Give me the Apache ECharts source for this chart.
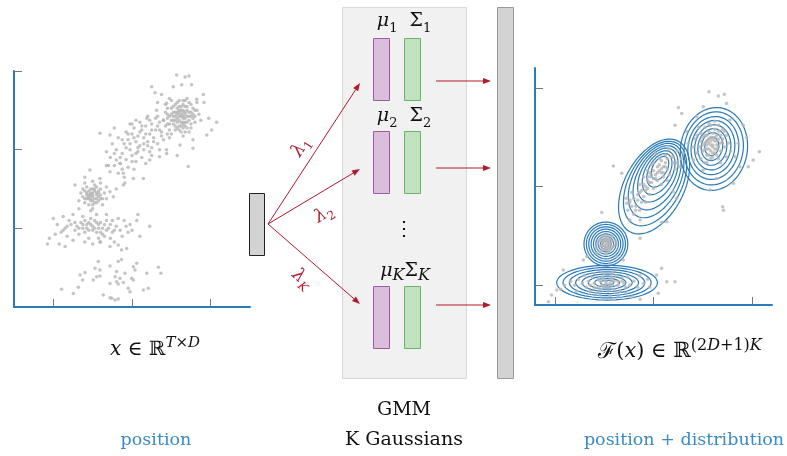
<!DOCTYPE html>
<html>
<head>
<meta charset="utf-8">
<script src="https://cdn.jsdelivr.net/npm/echarts@6/dist/echarts.min.js"></script>
<style>
html, body { margin: 0; padding: 0; background: #fff; }
#main { width: 787px; height: 456px; }
</style>
</head>
<body>
<div id="main"></div>
<script>
// input positions (left panel), units 0..120
var inputPoints = [
  // dense upper cluster
  [84,97],[86,99],[82,95],[88,100],[80,98],[85,94],[87,96],[83,101],[89,97],[81,93],
  [86,103],[90,99],[78,96],[84,92],[88,94],[83,98],[85,100],[87,92],[80,101],[91,101],
  [82,90],[86,96],[89,104],[79,93],[84,105],[92,97],[77,99],[88,91],[85,89],[81,97],
  [90,93],[83,94],[87,102],[86,91],[93,100],[79,90],[82,103],[89,95],[84,99],[91,96],
  [76,95],[88,106],[85,97],[80,88],[87,99],[94,98],[82,99],[86,94],[90,103],[83,91],
  [78,101],[92,94],[84,102],[89,89],[81,95],[87,105],[86,87],[95,95],[80,105],[93,104],
  [83,96],[85,98],[87,98],[84,95],[86,97],[82,97],[88,97],[85,102],[83,99],[86,100],
  [89,99],[81,99],[87,94],[84,90],[90,97],[80,95],[88,102],[82,92],[86,105],[91,98],
  [79,97],[85,92],[87,89],[83,104],[92,100],[78,93],[90,91],[84,100],[86,93],[81,102],
  [82.7,118],[87,117],[89,117.5],[70,112],[71.7,109],[81,112],[85.3,113],[90.3,113],[96.3,108],[96.6,104],
  [92.9,105.6],[103,94],[99,96],[100.5,90],[98,87.5],[91,80.7],[88.6,71.4],[83,77],[77.6,80],[74,76.4],
  [69,74.7],[75,108],[79,106],[73,104],[77,103],
  // diagonal band
  [60,88],[63,87],[65,90],[58,85],[67,92],[70,93],[62,84],[66,86],[72,90],[69,88],
  [74,94],[56,83],[59,80],[64,82],[68,84],[71,86],[75,89],[61,91],[53,86],[57,89],
  [55,78],[52,80],[49,76],[54,73],[51,72],[57,75],[60,77],[63,79],[66,80],[58,71],
  [62,74],[65,76],[69,79],[73,83],[76,85],[78,88],[72,96],[68,97],[64,94],[60,93],
  [50,83],[47,79],[55,70],[48,72],[53,68],[56,66],[61,70],[67,73],[70,77],[77,92],
  [79,86],[74,80],[43.7,88.3],[48.8,87.5],[51,91],[59,93],[62,95],[67.5,96],[72.5,100],[77.6,103.6],
  [60.7,65.4],[65.8,65.4],[77.6,78],[84.4,82.4],[91,85],[47,72],[52,74.7],[48.8,68.8],[55.6,68],[54,73],
  [56.4,63],[55.6,62],
  [61,86],[64,89],[67,88],[70,90],[73,92],[66,83],[63,81],[59,83],[62,78],[57,81],
  [54,76],[68,82],[71,84],[75,87],[65,92],[69,95],[58,88],[55,85],[51,78],[73,97],
  [76,95],[78,98],[74,90],[70,81],[60,74],
  // middle cluster
  [40,56],[42,58],[38,55],[41,53],[44,57],[37,58],[39,60],[43,54],[36,53],[42,61],
  [40,52],[45,55],[38,57],[41,59],[35,56],[43,56],[39,54],[37,61],[44,60],[40,58],
  [36,59],[42,55],[46,58],[38,52],[41,62],[34,58],[39,57],[43,59],[37,55],[40,50],
  [45,52],[33,54],[47,55],[40,64],[36,63],[44,63],[38.6,69.7],[31,62],[36,66],[43.7,65.4],
  [47,61],[50.5,56],[48.8,58.6],[52,60],
  [40,57],[41,55],[39,58],[42,57],[38,56],[40,54],[43,58],[37,57],[41,60],[39,55],
  [42,53],[44,55],[38,59],[40,60],[36,55],[35,60],
  // wide cluster
  [40,41],[37,42],[43,40],[35,40],[46,42],[32,41],[38,39],[44,43],[41,44],[29,42],
  [34,43],[48,40],[50,38],[36,38],[42,38],[31,39],[26,40],[28,44],[39,45],[45,37],
  [52,41],[54,39],[47,44],[33,37],[24,38],[22,42],[55,36],[57,41],[27,36],[38,35],
  [43,35],[49,35],[30,34],[21,37],[18,35],[17,32],[20,45],[25,46],[35,46],[42,47],
  [47,47],[53,45],[56,44],[59,42],[36,33],[40,32],[44,33],[51,33],[58,38],[23,32],
  [30,47],[39,49],[33,50],[63,47],[62.4,44],[69,41],[64,36],[60,39],[53,31.5],[54.7,29],
  [48.8,30.7],[57.3,29.8],[43.7,33],[26,30.7],
  [39,42],[41,40],[37,40],[43,42],[45,40],[35,42],[40,39],[42,43],[38,43],[33,40],
  [47,39],[44,38],[36,44],[31,43],[49,42],[50,44],[27,41],[25,39],[46,36],[51,39],
  // sparse bottom group
  [42.9,23.1],[53,23.1],[54.7,24.2],[48.8,20.8],[52.2,18],[33.6,16.3],[36.1,17.5],[41.2,19.7],[42,15.4],[40.3,13.7],
  [43.7,15.8],[51.4,15.4],[53.9,14.6],[56.4,17.1],[60.7,20.5],[61.5,18.8],[59.8,14.6],[52.2,12.9],[48.8,12],[53,11.7],
  [55.6,12.4],[58.1,9.5],[60.7,13.7],[67.5,17.1],[73.4,20.2],[74.7,17.1],[68.3,9.5],[65.8,8.6],[59,7.8],[32.7,10],
  [24.2,9],[30.2,6.9],[45.4,6.1],[49.7,4.4],[51.4,3.6],[53,4.1],[48.8,4.7],[34.9,13.7],[43.7,18.8],[62.4,22.2]
];

// same positions after fitting (right panel), units 0..120
var fittedPoints = [
  [89,81],[91,83],[87,79],[93,80],[88,84],[90,77],[86,82],[92,86],[94,82],[85,78],
  [89,85],[91,79],[87,76],[95,84],[88,88],[90,81],[84,83],[92,76],[86,86],[93,88],
  [96,80],[83,80],[89,74],[91,89],[87,83],[94,78],[85,85],[90,84],[88,79],[92,81],
  [97,86],[82,77],[86,90],[95,89],[89,91],[84,74],[93,74],[98,82],[81,84],[87,72],
  [90,80],[88,82],[91,85],[89,78],[92,83],[87,81],[93,84],[90,87],[86,79],[94,86],
  [88,76],[91,77],[89,83],[85,81],[92,79],[87,86],[95,82],[90,75],[84,87],[96,88],
  [88,92],[93,91],[99,78],[83,90],[80,80],[97,75],[86,72],[91,93],[94,72],[82,86],
  [88.1,108],[92.8,105.8],[95.9,106.7],[97,102],[72.6,100],[74.3,97],[70.9,91],[105.5,91],[107.2,85],[113.6,77.6],
  [110.5,73.4],[108,70],[100.4,61.6],[95,49.8],[95.4,48],[85.2,100.4],[81.9,95.4],[76.8,87.8],[77.6,81.9],[80.2,73.4],
  [85.2,68.4],[88.6,58.2],[92,64.1],[103.8,70],[101.3,75.1],[102.9,81.9],[98.7,93.7],
  [63,68],[61,66],[65,70],[60,64],[66,72],[58,62],[64,67],[62,70],[67,69],[59,66],
  [56,60],[57,63],[54,58],[55,55],[52,56],[60,59],[62,63],[65,65],[68,66],[70,72],
  [69,75],[66,76],[63,74],[59,71],[53,61],[50,54],[51,50],[48,52],[47,48],[50,46],
  [53,48],[56,52],[58,56],[71,69],[72,78],[74,74],[68,79],[61,77],[57,68],[55,65],
  [49,57],[46,54],[64,61],[67,63],[73,70],[39.7,70.4],[43.9,66.7],[33.8,46.8],[48.1,43],[53.2,43],
  [64.1,41.9],[66.7,42.2],[53.2,33.8],[46.4,51.5],[48.1,53.2],[70,57.4],[71.7,54],
  [62,67],[64,69],[61,64],[63,71],[65,67],[60,68],[66,70],[58,65],[57,59],[55,61],
  [53,57],[52,53],[49,50],[59,62],[67,74],[70,75],[64,73],[56,58],[54,52],[51,48],
  [75,77],[72,72],[60,72],[58,67],
  [36,31],[37,32],[35,30],[38,30],[34,32],[36,33],[37,29],[35,28],[39,32],[33,30],
  [36,34],[38,33],[34,28],[37,35],[35,33],[40,30],[32,32],[36,29],[38,28],[34,35],
  [39,35],[33,27],[41,32],[36,26],[31,29],[37,31],[26.2,24.5],[24.5,22.8],[31.2,26.2],[41.4,24.5],
  [44.7,22.8],[38,21.1],
  [36,30],[35,32],[37,33],[36,28],[38,31],[34,30],[35,35],[37,27],[39,29],[33,33],
  [36,11],[33,12],[39,10],[30,11],[42,12],[35,9],[38,13],[27,12],[45,11],[32,9],
  [40,8],[29,14],[44,14],[24,11],[48,10],[34,14],[37,7],[26,9],[41,15],[22,13],
  [50,12],[31,6],[43,7],[35,16],[20,10],[47,14],[28,7],[52,9],[39,16],[33,5],
  [18,12],[46,6],[55,11],[25,15],[30,16],[38,5],[42,4],[15,10],[13,8],[53,15],
  [57,13],[21,7],[49,4],[58,9],[6.8,1.7],[8.4,5.1],[11,7.6],[14.3,17.7],[53.2,2.9],[62.4,5.9],
  [64.1,18.6],[66.7,11.8],[70.9,11.8],[61.6,15.2],
  [36,12],[34,10],[38,11],[40,12],[32,13],[37,9],[42,10],[30,9],[44,12],[35,13],
  [28,10],[46,9],[39,14],[33,8],[41,6]
];

// density contours: [centre x, centre y, semi-axis a, semi-axis b, angle of a in degrees]
var contourRings = [
  [90.6,79.0,21.1,16.9,80],[90.5,79.3,18.6,14.9,80],[90.3,79.5,16.0,12.8,80],[90.1,79.7,13.8,11.0,80],
  [90.0,79.8,11.5,9.1,80],[89.8,80.0,9.3,7.3,80],[89.6,80.2,7.1,5.4,80],[89.5,80.3,4.7,3.5,80],
  [60.3,60.0,26.0,15.0,62],[60.8,61.5,23.2,13.3,62],[61.3,63.0,20.4,11.7,62],[61.8,64.4,17.6,10.1,62],
  [62.2,65.8,14.8,8.5,62],[62.6,67.0,12.0,6.9,62],[63.0,68.2,9.2,5.3,62],[63.3,69.3,6.4,3.7,62],
  [35.9,30.9,11.1,11.1,0],[35.9,30.9,9.9,9.9,0],[35.9,30.9,8.7,8.7,0],[35.9,30.9,7.5,7.5,0],
  [35.9,30.9,6.3,6.3,0],[35.9,30.9,5.1,5.1,0],[35.9,30.9,3.9,3.9,0],[35.9,30.9,2.7,2.7,0],[35.9,30.9,1.6,1.6,0],
  [36.5,11.3,25.5,8.8,0],[36.5,11.3,22.3,7.7,0],[36.5,11.3,19.1,6.6,0],[36.5,11.3,15.9,5.5,0],
  [36.5,11.3,12.7,4.4,0],[36.5,11.3,9.5,3.3,0],[36.5,11.3,6.3,2.2,0],[36.5,11.3,3.3,1.2,0]
];

var leftXTicks = [20, 60, 100];
var leftYTicks = [40, 80, 120];
var rightXTicks = [10, 60, 110];
var rightYTicks = [10, 60, 110];

var SERIF = 'DejaVu Serif';
var RED = '#b2182b';
var BLUE = '#2b7bba';

function axis(gridIndex, ticks) {
    return {
        type: 'value', gridIndex: gridIndex, min: 0, max: 120,
        axisLine: { show: true, onZero: false, lineStyle: { color: BLUE, width: 2 } },
        axisTick: { show: true, inside: true, length: 8, customValues: ticks, lineStyle: { color: '#777', width: 1 } },
        axisLabel: { show: false },
        splitLine: { show: false }
    };
}

// arrow = line + small filled head
function arrow(x1, y1, x2, y2) {
    var ang = Math.atan2(y2 - y1, x2 - x1);
    var len = 8, hw = 3;
    var bx = x2 - len * Math.cos(ang), by = y2 - len * Math.sin(ang);
    return [
        { type: 'line', shape: { x1: x1, y1: y1, x2: bx, y2: by }, style: { stroke: RED, lineWidth: 1 } },
        { type: 'polygon', shape: { points: [[x2, y2],
            [bx - hw * Math.sin(ang), by + hw * Math.cos(ang)],
            [bx + hw * Math.sin(ang), by - hw * Math.cos(ang)]] }, style: { fill: RED } }
    ];
}

function box(x, y, w, h, fill, stroke) {
    return { type: 'rect', shape: { x: x, y: y, width: w, height: h }, style: { fill: fill, stroke: stroke, lineWidth: 1 } };
}

function label(x, y, text, rich, color, size, rot) {
    return {
        type: 'text', x: x, y: y, rotation: rot || 0,
        style: {
            text: text, rich: rich, fill: color || '#111', fontFamily: SERIF, fontSize: size || 19,
            lineHeight: 28, textAlign: 'center', textVerticalAlign: 'middle'
        }
    };
}

function mathRich(size) {
    return {
        i: { fontStyle: 'italic', fontFamily: SERIF, fontSize: size, lineHeight: 28 },
        F: { fontFamily: SERIF, fontSize: size + 1, lineHeight: 28 },
        sup: { fontFamily: SERIF, fontSize: size - 5, lineHeight: 16, verticalAlign: 'top' },
        supi: { fontFamily: SERIF, fontSize: size - 5, lineHeight: 16, verticalAlign: 'top', fontStyle: 'italic' }
    };
}
var paramRich = {
    m: { fontStyle: 'italic', fontFamily: SERIF, fontSize: 19, lineHeight: 26 },
    S: { fontFamily: SERIF, fontSize: 19, lineHeight: 26 },
    s: { fontFamily: SERIF, fontSize: 13, lineHeight: 16, verticalAlign: 'bottom' },
    si: { fontFamily: SERIF, fontSize: 16, lineHeight: 17, verticalAlign: 'bottom', fontStyle: 'italic' }
};
var lamRich = {
    l: { fontStyle: 'italic', fontFamily: SERIF, fontSize: 18, lineHeight: 24, fill: RED },
    s: { fontFamily: SERIF, fontSize: 12, lineHeight: 14, verticalAlign: 'bottom', fill: RED },
    si: { fontFamily: SERIF, fontSize: 12, lineHeight: 14, verticalAlign: 'bottom', fill: RED, fontStyle: 'italic' }
};

var deg = Math.PI / 180;
var elements = [
    box(342.5, 7.5, 124, 371, '#f1f1f1', '#d9d9d9'),
    box(249.5, 193.5, 15, 62, '#d3d3d3', '#222'),
    box(497.5, 7.5, 16, 371, '#d3d3d3', '#9a9a9a')
];
[38.5, 131.5, 286.5].forEach(function (y) {
    elements.push(box(373.5, y, 16, 62, '#d9bfd9', '#9c5aa8'));
    elements.push(box(404.5, y, 16, 62, '#c3e3c0', '#62b862'));
});
[[360, 83], [360, 169], [360, 304]].forEach(function (p) {
    elements = elements.concat(arrow(268, 224, p[0], p[1]));
});
[81, 168, 305].forEach(function (y) {
    elements = elements.concat(arrow(436, y, 491, y));
});
elements.push(
    label(404, 21, '{m|μ}{s|1}  {S|Σ}{s|1}', paramRich),
    label(404, 116, '{m|μ}{s|2}  {S|Σ}{s|2}', paramRich),
    label(405, 271, '{m|μ}{si|K}{S|Σ}{si|K}', paramRich),
    { type: 'text', x: 404, y: 230, style: { text: '⋮', fontFamily: SERIF, fontSize: 20, fill: '#111',
        textAlign: 'center', textVerticalAlign: 'middle' } },
    label(301, 147, '{l|λ}{s|1}', lamRich, RED, 18, 57 * deg),
    label(324, 214, '{l|λ}{s|2}', lamRich, RED, 18, 31 * deg),
    label(302, 279, '{l|λ}{si|K}', lamRich, RED, 18, -41 * deg),
    label(155, 350, '{i|x} ∈ ℝ{supi|T}{sup|×}{supi|D}', mathRich(20), '#111', 20),
    label(680, 352, '{F|ℱ}({i|x}) ∈ ℝ{sup|(2}{supi|D}{sup|+1)}{supi|K}', mathRich(21), '#111', 21),
    label(404, 410, 'GMM', null, '#111', 19),
    label(404, 440, 'K Gaussians', null, '#111', 19),
    label(156, 440, 'position', null, '#3b8ac4', 17.5),
    label(684, 440, 'position + distribution', null, '#3b8ac4', 17.5)
);

var chart = echarts.init(document.getElementById('main'));
chart.setOption({
    backgroundColor: '#fff',
    animation: false,
    grid: [
        { left: 14, top: 71, width: 236, height: 236 },
        { left: 535, top: 68, width: 237, height: 237 }
    ],
    xAxis: [axis(0, leftXTicks), axis(1, rightXTicks)],
    yAxis: [axis(0, leftYTicks), axis(1, rightYTicks)],
    series: [
        {
            type: 'scatter', xAxisIndex: 0, yAxisIndex: 0, data: inputPoints,
            symbolSize: 3.5, itemStyle: { color: '#b5b5b5' }, silent: true
        },
        {
            type: 'custom', xAxisIndex: 1, yAxisIndex: 1, data: contourRings, silent: true,
            renderItem: function (params, api) {
                var cx = api.value(0), cy = api.value(1), a = api.value(2), b = api.value(3);
                var t = api.value(4) * deg, pts = [];
                for (var k = 0; k < 72; k++) {
                    var u = k / 72 * 2 * Math.PI;
                    var ex = a * Math.cos(u), ey = b * Math.sin(u);
                    pts.push(api.coord([cx + ex * Math.cos(t) - ey * Math.sin(t),
                                        cy + ex * Math.sin(t) + ey * Math.cos(t)]));
                }
                return { type: 'polygon', shape: { points: pts }, style: { fill: 'none', stroke: BLUE, lineWidth: 1.2 } };
            }
        },
        {
            type: 'scatter', xAxisIndex: 1, yAxisIndex: 1, data: fittedPoints,
            symbolSize: 3.5, itemStyle: { color: '#b5b5b5' }, silent: true
        }
    ],
    graphic: { elements: elements }
});
</script>
</body>
</html>
